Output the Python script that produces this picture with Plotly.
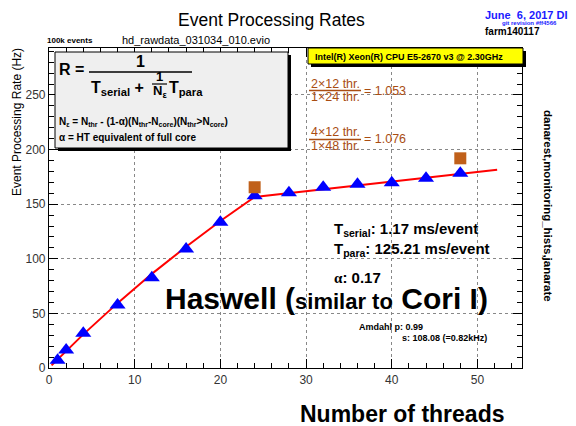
import plotly.graph_objects as go

# ---- data ----
threads = [1, 2, 4, 8, 12, 16, 20, 24, 28, 32, 36, 40, 44, 48]
rates = [7.0, 16.5, 31.8, 57.7, 82.7, 109.0, 133.4, 157.8, 160.5, 165.5, 168.2, 169.7, 173.7, 178.3]
fit_threads = [0.3, 1, 2, 4, 8, 12, 16, 20, 24, 28, 32, 36, 40, 44, 48, 52.3]
fit_rates = [2.4, 7.9, 15.7, 30.8, 59.4, 86.2, 111.0, 134.6, 156.6, 160.2, 163.7, 167.3, 170.8, 174.2, 177.6, 181.5]
ht_threads = [24, 48]
ht_rates = [165.5, 192.0]
x_ticks = [0, 10, 20, 30, 40, 50]
y_ticks = [0, 50, 100, 150, 200, 250]

FONT = "Liberation Sans, Arial, Helvetica, sans-serif"
PAGE_W, PAGE_H = 576, 426
BODY = 8  # default page body margin
L, R, T, B = 49, 522, 48, 368  # plot area in page pixels


def ax(px):
    return (px - L) / (R - L)


def ay(py):
    return (B - py) / (B - T)


fig = go.Figure()
fig.add_trace(go.Scatter(x=fit_threads, y=fit_rates, mode="lines",
                         line=dict(color="#ff0000", width=2), showlegend=False))
fig.add_trace(go.Scatter(x=threads, y=rates, mode="markers",
                         marker=dict(symbol="triangle-up", size=14, color="#0000ff"),
                         showlegend=False))
fig.add_trace(go.Scatter(x=ht_threads, y=ht_rates, mode="markers",
                         marker=dict(symbol="square", size=12, color="#c0601a"),
                         showlegend=False))

axis_common = dict(showline=True, linecolor="black", linewidth=1.2, mirror="allticks",
                   ticks="inside", ticklen=9, tickcolor="black", tickwidth=1,
                   showgrid=True, gridcolor="#888888", griddash="dot", gridwidth=1,
                   zeroline=False, tickfont=dict(family=FONT, size=12, color="#333333"))

fig.update_xaxes(range=[0, 55.2], tickvals=x_ticks,
                 minor=dict(ticks="inside", ticklen=5, dtick=2, tick0=0, tickcolor="black", showgrid=False),
                 **axis_common)
fig.update_yaxes(range=[0, 293], tickvals=y_ticks,
                 minor=dict(ticks="inside", ticklen=5, dtick=10, tick0=0, tickcolor="black", showgrid=False),
                 **axis_common)

shapes = []
# formula box with shadow
shapes.append(dict(type="rect", xref="paper", yref="paper", x0=ax(58), x1=ax(291), y0=ay(151), y1=ay(55),
                   fillcolor="black", line=dict(width=0), layer="above"))
shapes.append(dict(type="rect", xref="paper", yref="paper", x0=ax(55), x1=ax(288), y0=ay(148), y1=ay(52),
                   fillcolor="#efefef", line=dict(color="black", width=1), layer="above"))
# yellow box with shadow
shapes.append(dict(type="rect", xref="paper", yref="paper", x0=ax(311), x1=ax(526), y0=ay(67), y1=ay(51),
                   fillcolor="black", line=dict(width=0), layer="above"))
shapes.append(dict(type="rect", xref="paper", yref="paper", x0=ax(308), x1=ax(523), y0=ay(64), y1=ay(48),
                   fillcolor="#ffff00", line=dict(color="black", width=1), layer="above"))


def hline(x0, x1, y, color="black", w=1.5):
    shapes.append(dict(type="line", xref="paper", yref="paper", x0=ax(x0), x1=ax(x1), y0=ay(y), y1=ay(y),
                       line=dict(color=color, width=w), layer="above"))


hline(89, 192, 72)
hline(152, 167, 84, w=1.2)
ORANGE = "#a94d12"
hline(309, 361, 90.5, ORANGE, 1.3)
hline(309, 361, 139.5, ORANGE, 1.3)

ann = []


def txt(x, y, text, size, color="black", bold=False, xanchor="left", yanchor="middle", angle=0):
    if bold:
        text = "<b>" + text + "</b>"
    ann.append(dict(x=ax(x), y=ay(y), xref="paper", yref="paper", text=text, showarrow=False,
                    xanchor=xanchor, yanchor=yanchor, textangle=angle,
                    font=dict(family=FONT, size=size, color=color)))


# header
txt(271, 20, "Event Processing Rates", 17.5, xanchor="center")
txt(483, 15, "June  6, 2017 DI", 11, color="#1a1aff", bold=True)
txt(500, 23, "git revision #ff4566", 6, color="#1a1aff", bold=True)
txt(483, 32, "farm140117", 10, bold=True)
txt(45, 40, "100k events", 8, bold=True)
txt(120, 40, "hd_rawdata_031034_010.evio", 11)

# formula
txt(57, 70, "R =", 16, bold=True)
txt(140, 61, "1", 16, bold=True, xanchor="center")
txt(89, 88, "T<sub>serial</sub> +", 16, bold=True)
txt(159.5, 77, "1", 13, bold=True, xanchor="center")
txt(159.5, 92, "N<sub>ε</sub>", 13, bold=True, xanchor="center")
txt(167, 88, "T<sub>para</sub>", 16, bold=True)
txt(57, 122, "N<sub>ε</sub> = N<sub>thr</sub> - (1-α)(N<sub>thr</sub>-N<sub>core</sub>)(N<sub>thr</sub>&gt;N<sub>core</sub>)",
    10, bold=True)
txt(57, 137, "α = HT equivalent of full core", 10, bold=True)

# CPU box
txt(313, 56.5, "Intel(R) Xeon(R) CPU E5-2670 v3 @ 2.30GHz", 9, bold=True)

# ratios
txt(335, 84, "2×12 thr.", 12.5, color=ORANGE, xanchor="center")
txt(335, 97, "1×24 thr.", 12.5, color=ORANGE, xanchor="center")
txt(362, 91, "= 1.053", 12.5, color=ORANGE)
txt(335, 132, "4×12 thr.", 12.5, color=ORANGE, xanchor="center")
txt(335, 146, "1×48 thr.", 12.5, color=ORANGE, xanchor="center")
txt(362, 139, "= 1.076", 12.5, color=ORANGE)

# fit results
txt(332, 229, "T<sub>serial</sub>: 1.17 ms/event", 15, bold=True)
txt(332, 249, "T<sub>para</sub>: 125.21 ms/event", 15, bold=True)
txt(332, 277, "<span style='font-family:Liberation Serif, serif'>α</span>: 0.17", 15, bold=True)
txt(163, 298, "Haswell (<span style='font-size:22px'>similar to</span> Cori I)", 30, bold=True)
txt(357, 327, "Amdahl p: 0.99", 9, bold=True)
txt(400, 338, "s: 108.08 (=0.82kHz)", 9, bold=True)

# axis titles and side label
txt(17, 122, "Event Processing Rate (Hz)", 12, xanchor="center", angle=-90)
txt(402, 414, "Number of threads", 23, bold=True, xanchor="center")
txt(548, 206, "danarest,monitoring_hists,janarate", 11.5, bold=True, xanchor="center", angle=90)

# figure is drawn inside the page body, which is offset by BODY px
fig.update_layout(width=PAGE_W - BODY, height=PAGE_H - BODY,
                  margin=dict(l=L - BODY, r=PAGE_W - R, t=T - BODY, b=PAGE_H - B),
                  paper_bgcolor="white", plot_bgcolor="white",
                  shapes=shapes, annotations=ann, showlegend=False,
                  font=dict(family=FONT))

fig.write_html("out.html")
